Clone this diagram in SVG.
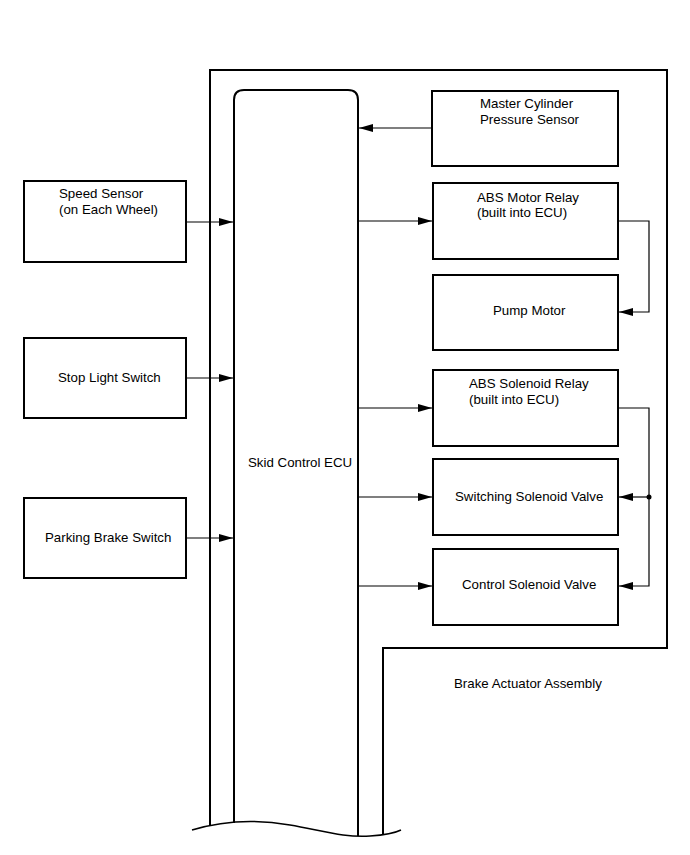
<svg xmlns="http://www.w3.org/2000/svg" width="690" height="855" viewBox="0 0 690 855">
<style>
.box{fill:none;stroke:#000;stroke-width:2}
.ln{fill:none;stroke:#000;stroke-width:1.2}
.t{font-family:"Liberation Sans",Arial,sans-serif;font-size:13.3px;fill:#000}
</style>
<defs>
<marker id="ah" viewBox="0 0 14 8" refX="14" refY="4" markerWidth="14" markerHeight="8" markerUnits="userSpaceOnUse" orient="auto">
<path d="M0,0 L14,4 L0,8 Z" fill="#000"/>
</marker>
</defs>
<rect width="690" height="855" fill="#fff"/>
<g id="assembly">
<path class="box" d="M210,825 V70 H667 V648 H383 V834"/>
<text class="t" x="454" y="688">Brake Actuator Assembly</text>
</g>
<g id="ecu">
<path class="box" d="M234,823 V100 Q234,90 244,90 H348 Q358,90 358,100 V836"/>
<text class="t" x="248" y="467">Skid Control ECU</text>
</g>
<g id="break">
<path fill="none" stroke="#000" stroke-width="1.5" d="M192,830 C215,823 250,818 290,825 C320,830 345,838 370,836 C385,835 395,833 401,830"/>
</g>
<g id="master">
<rect class="box" x="432" y="91" width="186" height="75"/>
<text class="t" x="480" y="108">Master Cylinder</text>
<text class="t" x="480" y="124">Pressure Sensor</text>
</g>
<g id="motor-relay">
<rect class="box" x="433" y="183" width="185" height="76"/>
<text class="t" x="477" y="202">ABS Motor Relay</text>
<text class="t" x="477" y="217">(built into ECU)</text>
</g>
<g id="pump">
<rect class="box" x="433" y="275" width="185" height="75"/>
<text class="t" x="493" y="315">Pump Motor</text>
</g>
<g id="sol-relay">
<rect class="box" x="433" y="370" width="185" height="76"/>
<text class="t" x="469" y="388">ABS Solenoid Relay</text>
<text class="t" x="469" y="404">(built into ECU)</text>
</g>
<g id="switching">
<rect class="box" x="433" y="459" width="185" height="76"/>
<text class="t" x="455" y="501">Switching Solenoid Valve</text>
</g>
<g id="control">
<rect class="box" x="433" y="549" width="185" height="76"/>
<text class="t" x="462" y="589">Control Solenoid Valve</text>
</g>
<g id="speed">
<rect class="box" x="24" y="181" width="162" height="81"/>
<text class="t" x="59" y="198">Speed Sensor</text>
<text class="t" x="59" y="214">(on Each Wheel)</text>
</g>
<g id="stop">
<rect class="box" x="24" y="338" width="162" height="80"/>
<text class="t" x="58" y="382">Stop Light Switch</text>
</g>
<g id="parking">
<rect class="box" x="24" y="498" width="162" height="80"/>
<text class="t" x="45" y="542">Parking Brake Switch</text>
</g>
<g id="connectors">
<path class="ln" d="M432,128 H359" marker-end="url(#ah)"/>
<path class="ln" d="M186,222 H233" marker-end="url(#ah)"/>
<path class="ln" d="M186,378 H233" marker-end="url(#ah)"/>
<path class="ln" d="M186,538 H233" marker-end="url(#ah)"/>
<path class="ln" d="M359,221 H432" marker-end="url(#ah)"/>
<path class="ln" d="M359,408 H432" marker-end="url(#ah)"/>
<path class="ln" d="M359,497 H432" marker-end="url(#ah)"/>
<path class="ln" d="M359,586 H432" marker-end="url(#ah)"/>
<path class="ln" d="M618,221 H649 V312 H619" marker-end="url(#ah)"/>
<path class="ln" d="M618,408 H649 V586 H619" marker-end="url(#ah)"/>
<path class="ln" d="M649,497 H619" marker-end="url(#ah)"/>
<circle cx="649" cy="497" r="2.5" fill="#000"/>
</g>
</svg>
